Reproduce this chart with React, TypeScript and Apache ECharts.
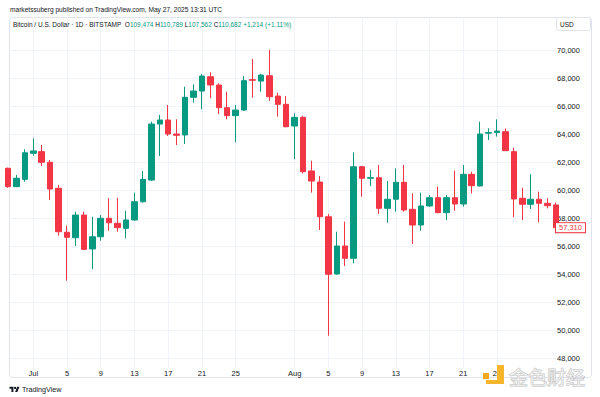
import React, { useEffect, useRef } from "react";
import * as echarts from "echarts";

const dates = [
  "06-28", "06-29", "06-30",
  "07-01", "07-02", "07-03", "07-04", "07-05", "07-06", "07-07", "07-08", "07-09", "07-10",
  "07-11", "07-12", "07-13", "07-14", "07-15", "07-16", "07-17", "07-18", "07-19", "07-20",
  "07-21", "07-22", "07-23", "07-24", "07-25", "07-26", "07-27", "07-28", "07-29", "07-30", "07-31",
  "08-01", "08-02", "08-03", "08-04", "08-05", "08-06", "08-07", "08-08", "08-09", "08-10",
  "08-11", "08-12", "08-13", "08-14", "08-15", "08-16", "08-17", "08-18", "08-19", "08-20",
  "08-21", "08-22", "08-23", "08-24", "08-25", "08-26", "08-27", "08-28", "08-29", "08-30", "08-31",
  "09-01",
];

const opens = [
  61550, 60240, 60760,
  62620, 62740, 61980, 60120, 56980, 56590, 58210, 55790, 56660, 57980,
  57620, 57260, 57860, 59160, 60710, 64710, 65000, 64000, 63930, 66620,
  67070, 68090, 67500, 65880, 65310, 65710, 67880, 67780, 68160, 66710, 66120,
  64570, 65190, 61360, 60570, 58090, 54000, 56000, 55120, 61660, 60840,
  60880, 58690, 59340, 60550, 58620, 57500, 58860, 59450, 58380, 59450,
  59000, 61120, 60290, 64060, 64100, 64160, 62740, 59410, 58980, 59340, 59050,
  58930,
];

const closes = [
  60240, 60840, 62660,
  62790, 61980, 60070, 57020, 56620, 58210, 55760, 56660, 57980, 57660,
  57310, 57860, 59160, 60760, 64710, 65000, 64000, 63910, 66620, 67070,
  68140, 67500, 65880, 65310, 65710, 67810, 67840, 68210, 66660, 66120, 64520,
  65190, 61310, 60640, 58090, 53980, 56000, 55120, 61660, 60840, 60880,
  58690, 59340, 60550, 58570, 57500, 58860, 59450, 58380, 59450, 59000,
  61120, 60310, 64000, 64100, 64210, 62810, 59360, 58980, 59340, 59050, 58880,
  57310,
];

const lows = [
  60150, 60200, 60590,
  62450, 61710, 59290, 56740, 53520, 56000, 55700, 54340, 56380, 57090,
  57020, 56550, 57800, 59100, 60650, 62430, 63860, 63210, 63290, 66240,
  65760, 66550, 65430, 65050, 63410, 65650, 66600, 67020, 66360, 65240, 64480,
  62210, 61190, 59810, 57140, 49590, 53950, 54570, 54760, 59520, 60290,
  58290, 57660, 58450, 58450, 56140, 57090, 58800, 58350, 57860, 58520,
  58810, 59760, 60250, 63570, 63810, 62780, 58050, 57860, 58640, 57690, 58690,
  57200,
];

const highs = [
  61600, 61070, 62910,
  63690, 63210, 62140, 60360, 57450, 58450, 58450, 58090, 58210, 59410,
  59450, 58520, 59810, 61360, 64880, 65360, 66070, 65050, 67380, 67550,
  68290, 68410, 67620, 67020, 66070, 68140, 69360, 68300, 70000, 66950, 66710,
  65480, 65300, 62090, 61000, 58290, 57020, 57740, 62690, 61700, 61430,
  61790, 60640, 61550, 61790, 59760, 59810, 59640, 60240, 59640, 61380,
  61790, 61310, 64880, 64410, 65050, 64400, 63020, 60160, 61120, 59880, 59410,
  59100,
];

const xTickDates = ["07-01", "07-05", "07-09", "07-13", "07-17", "07-21", "07-25", "08-01", "08-05", "08-09", "08-13", "08-17", "08-21", "08-25"];
const xTickTexts = ["Jul", "5", "9", "13", "17", "21", "25", "Aug", "5", "9", "13", "17", "21", "25"];

const headerText = "marketssuberg published on TradingView.com, May 27, 2025 13:31 UTC";
const symbolText = "Bitcoin / U.S. Dollar · 1D · BITSTAMP";
const ohlcLabels = ["O", "H", "L", "C"];
const ohlcValues = ["109,474", "110,789", "107,562", "110,682"];
const changeText = "+1,214 (+1.11%)";
const currencyText = "USD";
const brandText = "TradingView";
const watermarkText = "金色财经";

const UP = "#089981";
const DOWN = "#F23645";
const TEXT = "#131722";
const GRID = "#f0f3fa";
const FONT = "'Liberation Sans', Arial, sans-serif";

echarts.graphic.registerShape(
  "tvlogo",
  echarts.graphic.extendPath(
    "M14 22H7V11H0V4h14v18zM28 22h-8l7.5-18h8L28 22zM24 8a4 4 0 1 1-8 0a4 4 0 1 1 8 0z",
    {}
  ) as any
);

export default function App() {
  const ref = useRef<HTMLDivElement>(null);

  useEffect(() => {
    if (!ref.current) return;
    const chart = echarts.init(ref.current, undefined, { renderer: "svg" });
    const isTick = (_i: number, v: string) => xTickDates.indexOf(v) >= 0;
    const lastPrice = closes[closes.length - 1];
    const legendRich =
      "{t|" + symbolText + "}  " +
      ohlcLabels.map((l, i) => "{l|" + l + "}{v|" + ohlcValues[i] + "}").join(" ") +
      " {v|" + changeText + "}";

    chart.setOption({
      animation: false,
      backgroundColor: "#ffffff",
      textStyle: { fontFamily: FONT },
      grid: [
        { left: 8, right: 44, top: 23.4, height: 334.6 },
        { left: 8, right: 44, top: 17, height: 351 },
      ],
      xAxis: [
        {
          gridIndex: 0,
          type: "category",
          data: dates,
          boundaryGap: false,
          axisLine: { show: false },
          axisTick: { show: false },
          axisLabel: { show: false },
          splitLine: { show: false },
        },
        {
          gridIndex: 1,
          type: "category",
          data: dates,
          boundaryGap: false,
          axisLine: { show: false },
          axisTick: { show: false },
          axisLabel: {
            interval: isTick,
            formatter: (v: string) => xTickTexts[xTickDates.indexOf(v)] ?? "",
            margin: 1,
            fontSize: 7.5,
            color: TEXT,
            fontFamily: FONT,
          },
          splitLine: { show: true, interval: isTick, lineStyle: { color: GRID, width: 1 } },
        },
      ],
      yAxis: [
        {
          gridIndex: 0,
          type: "value",
          position: "right",
          min: 48000,
          max: 71900,
          interval: 2000,
          axisLine: { show: false },
          axisTick: { show: false },
          axisLabel: {
            showMinLabel: true,
            showMaxLabel: false,
            margin: 1,
            fontSize: 7.5,
            color: TEXT,
            fontFamily: FONT,
            formatter: (v: number) => v.toLocaleString("en-US"),
          },
          splitLine: { show: true, showMinLine: true, showMaxLine: false, lineStyle: { color: GRID, width: 1 } },
        },
        { gridIndex: 1, type: "value", show: false, min: 0, max: 1 },
      ],
      series: [
        {
          type: "candlestick",
          xAxisIndex: 0,
          yAxisIndex: 0,
          clip: true,
          barWidth: 6,
          data: dates.map((_, i) => [opens[i], closes[i], lows[i], highs[i]]),
          itemStyle: {
            color: UP,
            color0: DOWN,
            borderColor: UP,
            borderColor0: DOWN,
            borderWidth: 1,
          },
        },
        {
          type: "line",
          xAxisIndex: 0,
          yAxisIndex: 0,
          data: [[dates.length - 1, lastPrice]],
          showSymbol: false,
          symbol: "none",
          clip: false,
          z: 20,
          lineStyle: { width: 0, color: "rgba(0,0,0,0)" },
          markLine: {
            silent: true,
            symbol: ["none", "none"],
            lineStyle: { width: 0, color: "rgba(0,0,0,0)", type: "solid" },
            data: [{ yAxis: lastPrice }],
            label: {
              show: true,
              position: "end",
              distance: 0,
              opacity: 1,
              formatter: () => lastPrice.toLocaleString("en-US"),
              color: DOWN,
              backgroundColor: "#ffffff",
              borderColor: DOWN,
              borderWidth: 1,
              padding: [1, 3, 0, 3],
              fontSize: 7.5,
              fontFamily: FONT,
            },
          },
        },
      ],
      graphic: [
        {
          type: "rect",
          silent: true,
          z: -10,
          shape: { x: 9.5, y: 17.5, width: 582, height: 360, r: 3 },
          style: { fill: "none", stroke: "#e0e3eb", lineWidth: 1 },
        },
        {
          type: "text",
          silent: true,
          z: 50,
          x: 10,
          y: 9.5,
          style: { text: headerText, fill: TEXT, fontSize: 6.6, fontFamily: FONT, verticalAlign: "middle" },
        },
        {
          type: "text",
          silent: true,
          z: 50,
          x: 13,
          y: 24.5,
          style: {
            text: legendRich,
            fontSize: 6.5,
            fontFamily: FONT,
            verticalAlign: "middle",
            rich: {
              t: { fill: TEXT, fontSize: 6.5, fontFamily: FONT },
              l: { fill: TEXT, fontSize: 6.5, fontFamily: FONT },
              v: { fill: UP, fontSize: 6.5, fontFamily: FONT },
            },
          },
        },
        {
          type: "rect",
          silent: true,
          z: 50,
          shape: { x: 556.5, y: 17.5, width: 34, height: 13, r: 2 },
          style: { fill: "#ffffff", stroke: "#e0e3eb", lineWidth: 1 },
        },
        {
          type: "text",
          silent: true,
          z: 51,
          x: 560,
          y: 24.5,
          style: { text: currencyText, fill: TEXT, fontSize: 6.5, fontFamily: FONT, verticalAlign: "middle" },
        },
        {
          type: "tvlogo",
          silent: true,
          x: 9.5,
          y: 385.5,
          scaleX: 0.28,
          scaleY: 0.3,
          style: { fill: TEXT },
        },
        {
          type: "text",
          silent: true,
          x: 22,
          y: 389.5,
          style: { text: brandText, fill: TEXT, fontSize: 7.2, fontFamily: FONT, verticalAlign: "middle" },
        },
        {
          type: "rect",
          silent: true,
          z: 100,
          shape: { x: 483, y: 373, width: 6, height: 6 },
          style: { fill: "#f5a81c" },
        },
        {
          type: "polygon",
          silent: true,
          z: 100,
          shape: { points: [[497, 365], [504, 365], [504, 384], [486, 384], [486, 380], [497, 380]] },
          style: { fill: "#f7b52c" },
        },
        {
          type: "text",
          silent: true,
          z: 100,
          x: 509,
          y: 376,
          style: {
            text: watermarkText,
            fill: "rgba(255,255,255,0.6)",
            stroke: "#c4c4c4",
            lineWidth: 1,
            fontSize: 19,
            fontFamily: "'Noto Sans CJK SC', sans-serif",
            verticalAlign: "middle",
          },
        },
      ],
    });
    return () => chart.dispose();
  }, []);

  return (
    <div
      ref={ref}
      style={{ position: "absolute", left: 0, top: 0, width: 600, height: 397, background: "#fff" }}
    />
  );
}
